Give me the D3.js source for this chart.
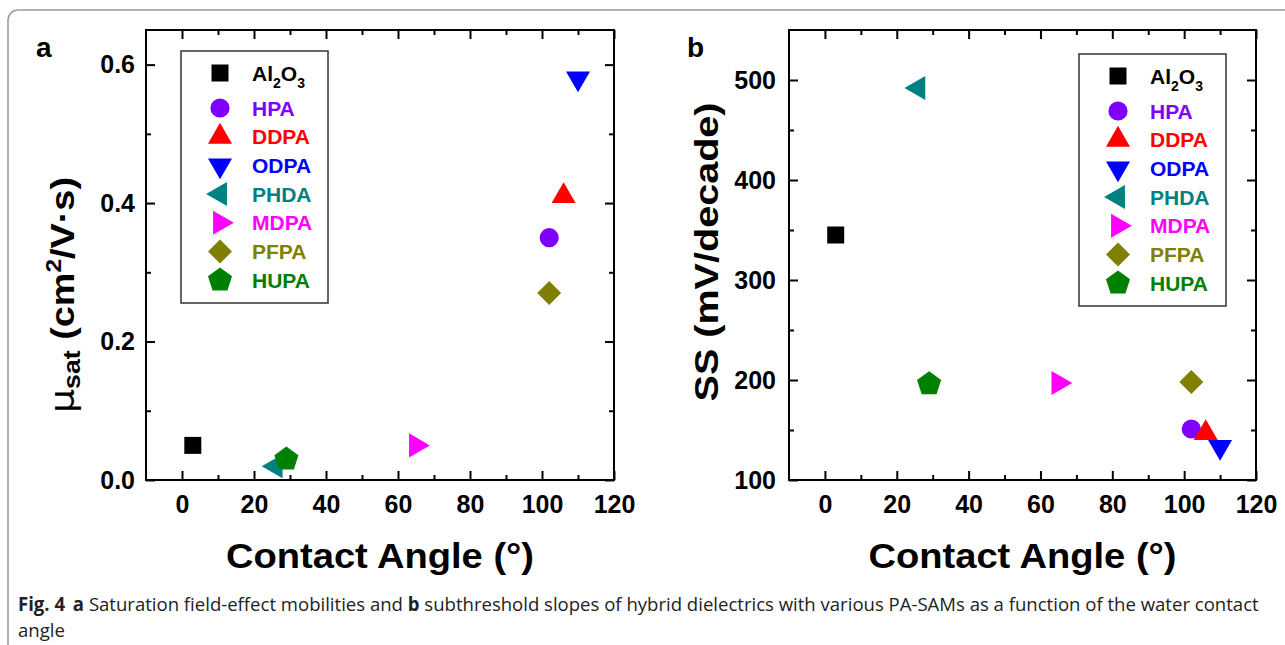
<!DOCTYPE html>
<html>
<head>
<meta charset="utf-8">
<script src="https://cdn.jsdelivr.net/npm/d3@7"></script>
<style>
  body { margin: 0; background: #fff; }
  svg { display: block; font-family: "Liberation Sans", Arial, sans-serif; }
</style>
</head>
<body>
<svg id="fig" width="1285" height="645"></svg>
<script>
// values
const materials = ["Al2O3", "HPA", "DDPA", "ODPA", "PHDA", "MDPA", "PFPA", "HUPA"];
const contactAngle = [3, 102, 106, 110, 26, 65, 102, 29];
const mobility = [0.05, 0.35, 0.41, 0.58, 0.02, 0.05, 0.27, 0.03];
const subSlope = [345, 151, 147, 133, 492, 197, 198, 196];

const xTicks = [0, 20, 40, 60, 80, 100, 120];
const xMinor = [10, 30, 50, 70, 90, 110];
const mobilityTicks = [0.0, 0.2, 0.4, 0.6];
const mobilityMinor = [0.1, 0.3, 0.5];
const slopeTicks = [100, 200, 300, 400, 500];
const slopeMinor = [150, 250, 350, 450];

const colors = ["#000000", "#8000ff", "#ff0000", "#0000ff", "#008080", "#ff00ff", "#808000", "#008000"];
const shapes = ["square", "circle", "up", "down", "left", "right", "diamond", "pentagon"];

const svg = d3.select("#fig");

// outer card border
svg.append("rect")
  .attr("x", 8).attr("y", 10)
  .attr("width", 1320).attr("height", 700)
  .attr("rx", 10)
  .attr("fill", "none")
  .attr("stroke", "#9a9a9a")
  .attr("stroke-width", 1.5);

// pentagon symbol (d3 has none)
const symbolPentagon = {
  draw(context, size) {
    const r = Math.sqrt(size / (2.5 * Math.sin(2 * Math.PI / 5)));
    for (let i = 0; i < 5; i++) {
      const a = -Math.PI / 2 + i * 2 * Math.PI / 5;
      const px = r * Math.cos(a), py = r * Math.sin(a);
      if (i === 0) context.moveTo(px, py); else context.lineTo(px, py);
    }
    context.closePath();
  }
};

function markerPath(shape) {
  if (shape === "square" || shape === "diamond") return d3.symbol(d3.symbolSquare, 289)();
  if (shape === "circle") return d3.symbol(d3.symbolCircle, 290)();
  if (shape === "pentagon") return d3.symbol(symbolPentagon, 380)();
  return d3.symbol(d3.symbolTriangle, 250)();
}
function markerRotate(shape) {
  return { down: 180, left: -90, right: 90, diamond: 45 }[shape] || 0;
}

const points = materials.map((m, i) => ({
  name: m, angle: contactAngle[i], mu: mobility[i], ss: subSlope[i],
  color: colors[i], shape: shapes[i]
}));

function drawPanel(cfg) {
  const g = svg.append("g");
  const top = 30, bottom = 480;

  const x = d3.scaleLinear().domain([-10, 120]).range([cfg.left, cfg.right]);
  const y = d3.scaleLinear().domain(cfg.yDomain).range([bottom, top]);

  const styleAxis = (sel) => {
    sel.select(".domain").remove();
    sel.selectAll("line").attr("stroke", "#000").attr("stroke-width", 2);
    sel.attr("font-family", "'Liberation Sans', Arial, sans-serif")
      .attr("font-size", 25).attr("font-weight", "bold");
    sel.selectAll("text").attr("fill", "#000");
  };

  // bottom axis with labels, ticks inward
  g.append("g").attr("transform", `translate(0,${bottom})`)
    .call(d3.axisBottom(x).tickValues(xTicks).tickSize(-9).tickPadding(15))
    .call(styleAxis);
  g.append("g").attr("transform", `translate(0,${bottom})`)
    .call(d3.axisBottom(x).tickValues(xMinor).tickSize(-5).tickFormat(""))
    .call(styleAxis);
  // top mirror
  g.append("g").attr("transform", `translate(0,${top})`)
    .call(d3.axisTop(x).tickValues(xTicks).tickSize(-9).tickFormat(""))
    .call(styleAxis);
  g.append("g").attr("transform", `translate(0,${top})`)
    .call(d3.axisTop(x).tickValues(xMinor).tickSize(-5).tickFormat(""))
    .call(styleAxis);
  // left axis with labels
  g.append("g").attr("transform", `translate(${cfg.left},0)`)
    .call(d3.axisLeft(y).tickValues(cfg.yTicks).tickSize(-9).tickPadding(cfg.yPad).tickFormat(cfg.yFormat))
    .call(styleAxis);
  g.append("g").attr("transform", `translate(${cfg.left},0)`)
    .call(d3.axisLeft(y).tickValues(cfg.yMinor).tickSize(-5).tickFormat(""))
    .call(styleAxis);
  // right mirror
  g.append("g").attr("transform", `translate(${cfg.right},0)`)
    .call(d3.axisRight(y).tickValues(cfg.yTicks).tickSize(-9).tickFormat(""))
    .call(styleAxis);
  g.append("g").attr("transform", `translate(${cfg.right},0)`)
    .call(d3.axisRight(y).tickValues(cfg.yMinor).tickSize(-5).tickFormat(""))
    .call(styleAxis);

  // frame
  g.append("rect")
    .attr("x", cfg.left).attr("y", top)
    .attr("width", cfg.right - cfg.left).attr("height", bottom - top)
    .attr("fill", "none").attr("stroke", "#000").attr("stroke-width", 2);

  // points
  g.selectAll(".pt")
    .data(points)
    .join("path")
    .attr("class", "pt")
    .attr("d", (d) => markerPath(d.shape))
    .attr("fill", (d) => d.color)
    .attr("transform", (d) => `translate(${x(d.angle)},${y(d[cfg.key])}) rotate(${markerRotate(d.shape)})`);

  // panel letter
  g.append("text")
    .attr("x", cfg.letterX).attr("y", 57)
    .attr("font-size", 28).attr("font-weight", "bold")
    .text(cfg.letter);

  // x title
  g.append("text")
    .attr("x", (cfg.left + cfg.right) / 2).attr("y", 568)
    .attr("text-anchor", "middle")
    .attr("font-size", 35).attr("font-weight", "bold")
    .attr("textLength", 308).attr("lengthAdjust", "spacingAndGlyphs")
    .text("Contact Angle (°)");

  // legend
  const lg = g.append("g");
  lg.append("rect")
    .attr("x", cfg.legend[0]).attr("y", cfg.legend[1])
    .attr("width", 147).attr("height", 252)
    .attr("fill", "#fff").attr("stroke", "#333").attr("stroke-width", 1.5);
  const rowY = (i) => cfg.legend[1] + (i === 0 ? 22 : 57 + (i - 1) * 28.7);
  const rows = lg.selectAll(".row")
    .data(points)
    .join("g")
    .attr("class", "row")
    .attr("transform", (d, i) => `translate(${cfg.legend[0]},${rowY(i)})`);
  rows.append("path")
    .attr("d", (d) => markerPath(d.shape))
    .attr("fill", (d) => d.color)
    .attr("transform", (d) => `translate(39,0) rotate(${markerRotate(d.shape)})`);
  rows.append("text")
    .attr("x", 71).attr("dy", "0.36em")
    .attr("font-size", 21).attr("font-weight", "bold")
    .attr("fill", (d) => d.color)
    .each(function (d) {
      const t = d3.select(this);
      if (d.name === "Al2O3") {
        t.append("tspan").text("Al");
        t.append("tspan").attr("font-size", 14).attr("dy", 7).text("2");
        t.append("tspan").attr("dy", -7).text("O");
        t.append("tspan").attr("font-size", 14).attr("dy", 7).text("3");
      } else {
        t.text(d.name);
      }
    });

  return g;
}

const ga = drawPanel({
  left: 146, right: 614, yDomain: [0, 0.65], yTicks: mobilityTicks, yMinor: mobilityMinor,
  yFormat: d3.format(".1f"), yPad: 11, key: "mu", letter: "a", letterX: 36, legend: [181, 51]
});
const gb = drawPanel({
  left: 789, right: 1256, yDomain: [100, 550], yTicks: slopeTicks, yMinor: slopeMinor,
  yFormat: d3.format("d"), yPad: 13, key: "ss", letter: "b", letterX: 687, legend: [1079, 54]
});

// y titles
const ya = ga.append("text")
  .attr("transform", "translate(74,295) rotate(-90)")
  .attr("text-anchor", "middle")
  .attr("font-size", 34).attr("font-weight", "bold")
  .attr("textLength", 236).attr("lengthAdjust", "spacingAndGlyphs");
ya.append("tspan").attr("font-weight", "normal").attr("font-family", "'DejaVu Sans', sans-serif").text("μ");
ya.append("tspan").attr("font-size", 24).attr("dy", 6).text("sat");
ya.append("tspan").attr("dy", -6).text(" (cm");
ya.append("tspan").attr("font-size", 22).attr("dy", -13).text("2");
ya.append("tspan").attr("dy", 13).text("/V·s)");

gb.append("text")
  .attr("transform", "translate(718,252) rotate(-90)")
  .attr("text-anchor", "middle")
  .attr("font-size", 33).attr("font-weight", "bold")
  .attr("textLength", 299).attr("lengthAdjust", "spacingAndGlyphs")
  .text("SS (mV/decade)");

// caption, set in a condensed width like the journal's font
const capG = svg.append("g");
const cap = capG.append("text")
  .attr("x", 0).attr("y", 611)
  .attr("font-family", "'Open Sans', sans-serif")
  .attr("font-size", 19).attr("fill", "#222");
cap.append("tspan").attr("font-weight", "bold").text("Fig. 4");
cap.append("tspan").attr("font-weight", "bold").attr("dx", 8).text("a");
cap.append("tspan").text(" Saturation field-effect mobilities and ");
cap.append("tspan").attr("font-weight", "bold").text("b");
cap.append("tspan").text(" subthreshold slopes of hybrid dielectrics with various PA-SAMs as a function of the water contact");
capG.append("text")
  .attr("x", 0).attr("y", 637)
  .attr("font-family", "'Open Sans', sans-serif")
  .attr("font-size", 19).attr("fill", "#222")
  .text("angle");
const natural = cap.node().getComputedTextLength();
capG.attr("transform", `translate(18,0) scale(${1234 / natural},1)`);
</script>
</body>
</html>
